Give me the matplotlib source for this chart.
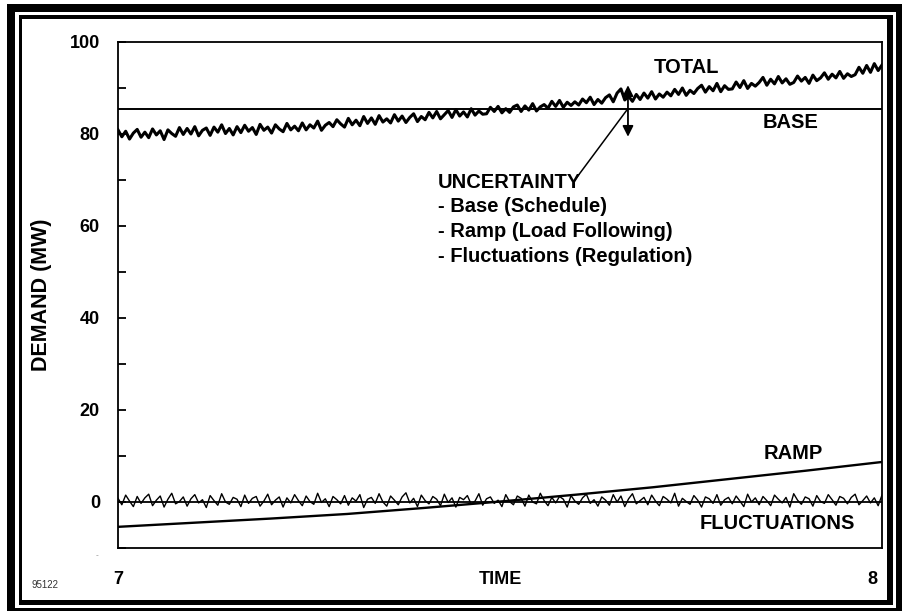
import numpy as np
import matplotlib
matplotlib.use("Agg")
import matplotlib.pyplot as plt
from matplotlib.patches import Rectangle
from matplotlib.ticker import MultipleLocator, FuncFormatter

# hour of day, demand in MW
base_time = [7.0, 8.0]
base_mw = [85.4, 85.4]

ramp_time = [7.0, 7.1, 7.2, 7.3, 7.4, 7.5, 7.6, 7.7, 7.8, 7.9, 8.0]
ramp_mw = [-5.4, -4.5, -3.6, -2.6, -1.3, 0.1, 1.6, 3.2, 5.0, 6.8, 8.7]

total_mw = [
    80.9, 79.4, 80.6, 78.9, 80.2, 81.0, 79.3, 80.4,
    79.2, 81.1, 79.8, 80.7, 78.8, 80.9, 80.1, 79.5,
    81.4, 79.9, 81.2, 80.0, 81.6, 79.6, 80.8, 81.3,
    79.7, 81.5, 80.4, 82.0, 80.1, 81.2, 79.8, 81.6,
    80.3, 81.9, 80.6, 81.4, 79.9, 82.1, 80.8, 81.5,
    80.2, 82.0, 81.1, 80.5, 82.3, 80.9, 81.7, 80.7,
    82.4, 80.9, 82.0, 81.3, 82.8, 80.8, 81.9, 82.5,
    81.6, 83.1, 82.2, 81.5, 83.4, 82.0, 83.0, 81.8,
    83.8, 82.3, 83.5, 82.1, 84.0, 82.6, 83.3, 82.4,
    84.2, 82.8, 83.9, 82.5, 83.6, 84.4, 82.7, 83.8,
    83.1, 84.7, 83.5, 84.9, 83.3, 84.2, 85.1, 83.6,
    85.3, 83.9, 84.8, 83.7, 85.5, 84.1, 85.0, 84.3,
    84.4, 85.8, 84.9, 86.0, 84.6, 85.5, 84.7, 85.9,
    86.3, 84.9, 86.1, 85.2, 86.6, 85.0, 85.9, 86.4,
    85.6, 87.1, 86.0, 87.3, 85.8, 86.9, 86.2, 87.0,
    86.3, 87.6, 86.8, 88.0, 86.4, 87.5, 86.7, 87.9,
    88.5, 87.0, 88.9, 89.8, 87.4, 88.2, 87.1, 88.6,
    87.5, 88.9, 87.8, 89.2, 87.6, 88.7, 88.0, 89.1,
    88.3, 89.7, 88.6, 90.0, 88.4, 89.5, 88.8, 89.9,
    90.6, 89.1, 90.3, 89.4, 91.0, 89.2, 90.5, 89.7,
    89.8, 91.3, 90.1, 91.6, 89.9, 91.0, 90.4, 91.2,
    92.3, 90.6, 91.9, 90.9, 92.5, 91.1, 92.0, 90.8,
    91.2, 92.6, 91.5, 92.3, 91.0, 92.8, 91.6, 92.2,
    93.3, 91.9, 93.0, 92.2, 93.6, 92.1, 93.1, 92.5,
    92.9, 94.5, 93.2, 94.9, 93.4, 95.3, 93.8, 95.0,
]

fluct_mw = [
    0.8, -0.6, 1.5, 0.2, -1.0, 1.2, -0.3, 0.9, 1.7, -0.8,
    0.4, 1.3, -1.1, 0.6, 1.9, -0.4, 0.1, 1.1, -0.9, 0.7,
    1.6, -0.2, 0.5, -1.2, 1.4, 0.3, -0.7, 1.8, 0.0, -0.5,
    1.0, 0.6, -1.0, 1.5, -0.3, 0.8, 1.2, -0.9, 0.2, 1.7,
    -0.6, 0.4, 1.1, -1.1, 0.9, -0.2, 1.6, 0.3, -0.8, 1.3,
    0.1, -0.5, 1.9, -0.1, 0.7, -1.0, 1.2, 0.5, -0.4, 1.4,
    -0.7, 0.9, 0.2, 1.6, -1.2, 0.6, 1.0, -0.3, 1.8, 0.0,
    -0.9, 1.3, 0.4, -0.6, 1.1, 2.0, -0.2, 0.8, -1.0, 1.5,
    0.3, -0.4, 1.2, 0.6, -0.8, 1.7, -0.1, 0.9, -1.1, 1.0,
    0.5, 1.4, -0.5, 0.2, 1.8, -0.7, 0.7, 1.1, -0.3, 0.4,
    -1.0, 1.6, 0.1, -0.6, 1.3, 0.8, -0.9, 1.5, 0.0, -0.4,
    1.9, 0.3, -0.8, 1.0, -0.2, 1.2, 0.6, -1.1, 1.4, 0.2,
    -0.5, 0.9, 1.7, -0.3, 0.5, -0.9, 1.1, 0.4, -0.7, 1.6,
    0.0, 1.3, -1.0, 0.7, 1.8, -0.4, 0.3, 1.0, -0.6, 1.5,
    0.2, -0.8, 1.2, 0.6, -0.2, 1.9, -0.9, 0.8, 0.1, -0.5,
    1.4, 0.4, -1.1, 1.1, 0.7, -0.3, 1.6, -0.7, 0.5, 1.0,
    -0.4, 1.3, 0.2, -1.0, 1.7, 0.0, 0.9, -0.6, 1.2, 0.3,
    -0.8, 1.5, 0.6, -0.2, 1.0, -1.1, 1.8, 0.4, -0.5, 1.1,
    0.7, -0.9, 1.4, 0.1, -0.3, 1.6, 0.5, -0.7, 1.2, 0.8,
    -0.4, 1.0, 1.7, -0.6, 0.3, 1.3, -0.2, 0.9, -0.8, 1.5,
]

uncertainty_lines = ["UNCERTAINTY", "- Base (Schedule)",
                     "- Ramp (Load Following)", "- Fluctuations (Regulation)"]

W, H = 902, 611
FONT = "Liberation Sans"


def px_rect(fig, x0, y0, x1, y1, color):
    # rectangle given in image pixels, origin top-left
    r = Rectangle((x0 / W, 1 - y1 / H), (x1 - x0) / W, (y1 - y0) / H,
                  transform=fig.transFigure, facecolor=color,
                  edgecolor="none", zorder=-10)
    fig.patches.append(r)


def main():
    plt.rcParams["font.family"] = [FONT, "DejaVu Sans"]
    plt.rcParams["font.weight"] = "bold"

    fig = plt.figure(figsize=(W / 100, H / 100), dpi=100)

    # double border
    px_rect(fig, 7, 4, 902, 611, "black")
    px_rect(fig, 15, 12, 896, 608, "white")
    px_rect(fig, 19, 15, 893, 605, "black")
    px_rect(fig, 22, 19, 887, 600, "white")

    ax = fig.add_axes([118 / W, 1 - 548 / H, (882 - 118) / W, (548 - 42) / H])
    ax.set_xlim(7, 8)
    ax.set_ylim(-10, 100)

    t_total = np.linspace(7, 8, len(total_mw))
    t_fluct = np.linspace(7, 8, len(fluct_mw))

    ax.axhline(0, color="black", lw=1.3)
    ax.plot(base_time, base_mw, color="black", lw=1.4)
    ax.plot(ramp_time, ramp_mw, color="black", lw=1.7)
    ax.plot(t_fluct, fluct_mw, color="black", lw=1.0)
    ax.plot(t_total, total_mw, color="black", lw=2.2)

    for s in ax.spines.values():
        s.set_linewidth(1.3)

    ax.set_xticks([])
    ax.yaxis.set_major_locator(MultipleLocator(10))
    ax.yaxis.set_major_formatter(
        FuncFormatter(lambda v, p: "%d" % v if (v >= 0 and int(round(v)) % 20 == 0) else ""))
    ax.tick_params(axis="y", direction="in", length=6, width=1.3, pad=13,
                   labelsize=13)
    for lab in ax.get_yticklabels():
        lab.set_fontweight("bold")

    # curve labels
    kw = dict(fontsize=14.5, fontweight="bold", ha="center", va="center")
    ax.text(7.7435, 94.5, "TOTAL", **kw)
    ax.text(7.880, 82.6, "BASE", **kw)
    ax.text(7.8835, 10.65, "RAMP", **kw)
    ax.text(7.8626, -4.57, "FLUCTUATIONS", **kw)

    # uncertainty arrow and pointer
    ax.annotate("", xy=(7.6675, 90.6), xytext=(7.6675, 79.4),
                arrowprops=dict(arrowstyle="<|-|>", color="black", lw=1.3,
                                mutation_scale=16, shrinkA=0, shrinkB=0))
    ax.annotate("", xy=(7.666, 85.2), xytext=(7.598, 70.0),
                arrowprops=dict(arrowstyle="-", color="black", lw=1.1,
                                shrinkA=0, shrinkB=0))
    for i, line in enumerate(uncertainty_lines):
        ax.text(7.419, 68.3 - i * 5.36, line, fontsize=14.5, fontweight="bold",
                ha="left", va="baseline")

    # axis labels
    fig.text(42 / W, 1 - 295 / H, "DEMAND (MW)", rotation=90, fontsize=15.5,
             fontweight="bold", ha="center", va="center")
    fig.text(500 / W, 1 - 579 / H, "TIME", fontsize=13, fontweight="bold",
             ha="center", va="center")
    fig.text(118.5 / W, 1 - 580 / H, "7", fontsize=13, fontweight="bold",
             ha="center", va="center")
    fig.text(872 / W, 1 - 579 / H, "8", fontsize=13, fontweight="bold",
             ha="center", va="center")
    fig.text(44.5 / W, 1 - 585 / H, "95122", fontsize=7, fontweight="normal",
             color="#333333", ha="center", va="center")
    fig.text(97 / W, 1 - 556 / H, "-", fontsize=6, fontweight="normal",
             color="#888888", ha="center", va="center")

    fig.savefig("out.png", dpi=100)


if __name__ == "__main__":
    main()
